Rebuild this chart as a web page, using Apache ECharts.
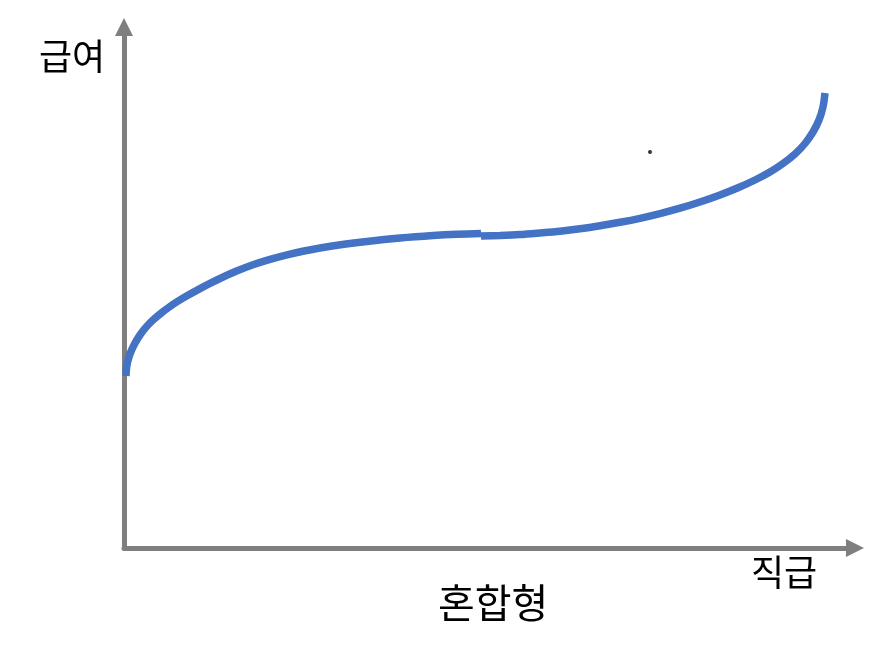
<!DOCTYPE html>
<html><head><meta charset="utf-8">
<script src="https://cdn.jsdelivr.net/npm/echarts@6/dist/echarts.min.js"></script>
<style>html,body{margin:0;padding:0;background:#fff}#c{width:884px;height:653px}</style>
</head><body><div id="c"></div>
<script>
const yLabel = '급여';
const xLabel = '직급';
const titleText = '혼합형';
const seg1X = [2, 2.5, 3.5, 5, 7, 9.5, 12.5, 16, 20, 24, 29, 37, 46, 54, 63, 76, 86, 96, 112, 129, 146, 163, 180, 196, 220, 243, 276, 309, 333, 357];
const seg1Y = [172, 179.5, 185.5, 191, 196.5, 202, 207.5, 213, 218.3, 223, 228, 234.8, 241.5, 246.8, 252.2, 259.4, 264.6, 269.5, 276.7, 283.2, 288.6, 293.2, 297, 300, 303.7, 306.6, 309.9, 312.4, 313.7, 314.5];
const seg2X = [357, 376, 396, 416, 436, 456, 476, 496, 516, 536, 556, 576, 596, 614, 631, 646, 659, 671, 681, 689, 695, 699, 701];
const seg2Y = [312, 312.5, 313.4, 315, 316.8, 319.2, 322.2, 325.7, 329.7, 334.4, 339.8, 346, 353, 360.2, 368, 376, 384.5, 394, 404.5, 416, 428, 441, 455];
const dotX = [526];
const dotY = [396];

const zip = (a, b) => a.map((v, i) => [v, b[i]]);
const axisColor = '#7F7F7F';
const lineColor = '#4472C4';
const font = '"Noto Sans CJK KR", "Noto Sans", sans-serif';

const chart = echarts.init(document.getElementById('c'));
const axisCommon = {
  type: 'value',
  axisTick: { show: false },
  axisLabel: { show: false },
  splitLine: { show: false },
  axisLine: {
    show: true,
    lineStyle: { color: axisColor, width: 5 },
    symbol: ['none', 'triangle'],
    symbolSize: [18, 18]
  }
};
chart.setOption({
  animation: false,
  backgroundColor: '#ffffff',
  grid: { left: 124, right: 29, top: 27, bottom: 105 },
  xAxis: Object.assign({}, axisCommon, { min: 0, max: 731 }),
  yAxis: Object.assign({}, axisCommon, { min: 0, max: 521 }),
  series: [
    { type: 'line', data: zip(seg1X, seg1Y), smooth: 0.3, symbol: 'none',
      lineStyle: { color: lineColor, width: 7.5 } },
    { type: 'line', data: zip(seg2X, seg2Y), smooth: 0.3, symbol: 'none',
      lineStyle: { color: lineColor, width: 7.5 } },
    { type: 'scatter', data: zip(dotX, dotY), symbolSize: 4,
      itemStyle: { color: '#000000' } }
  ],
  graphic: [
    { type: 'text', left: 39, top: 38, style: { text: yLabel, font: '36px ' + font, fill: '#000' } },
    { type: 'text', left: 751, top: 554, style: { text: xLabel, font: '36px ' + font, fill: '#000' } },
    { type: 'text', left: 438, top: 583, style: { text: titleText, font: '40px ' + font, fill: '#000' } }
  ]
});
</script></body></html>
